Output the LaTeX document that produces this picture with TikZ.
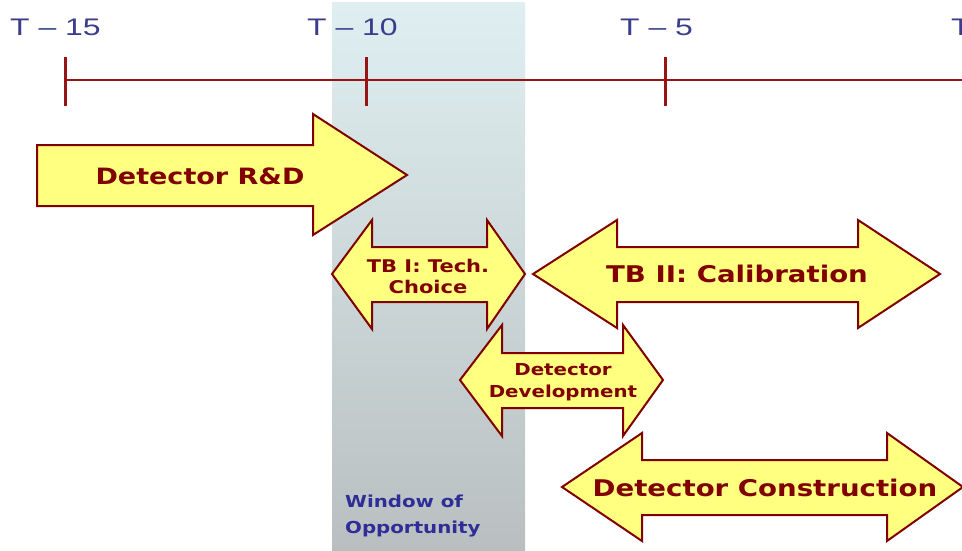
\documentclass[tikz,border=0pt]{standalone}
\usepackage{fontspec}
\newfontfamily\tickfont[FakeStretch=1.33]{Liberation Sans}
\newfontfamily\barfont[FakeStretch=1.2]{DejaVu Sans}

\definecolor{barred}{RGB}{128,0,0}
\definecolor{baryellow}{RGB}{255,255,128}
\definecolor{axisred}{RGB}{150,20,20}
\definecolor{tickblue}{RGB}{60,60,140}
\definecolor{winblue}{RGB}{46,46,150}
\definecolor{wintop}{RGB}{223,239,241}
\definecolor{winbot}{RGB}{185,191,192}

\begin{document}
\begin{tikzpicture}[x=1pt, y=-1pt,
    bar/.style = {draw=barred, line width=2pt, fill=baryellow},
    barlabel/.style = {text=barred, align=center, inner sep=0pt},
    ticklabel/.style = {text=tickblue, anchor=base west, inner sep=0pt,
      font=\tickfont\fontsize{24}{24}\selectfont}]
        \useasboundingbox (0,0) rectangle (962,550);
        \clip (0,0) rectangle (962,550);
        % window of opportunity
        \shade [top color=wintop, bottom color=winbot] (332,2) rectangle (525,550);
        \node [text=winblue, anchor=west, align=left, inner sep=0pt,
          font=\barfont\bfseries\fontsize{16.5}{26}\selectfont] (window) at (345,516)
          {Window of\\Opportunity};
        % time axis
        \draw [axisred, line width=2pt] (65,80) -- (970,80);
        \foreach \t in {65,366,665}
          \draw [axisred, line width=3pt] (\t,57) -- (\t,106);
        \node [ticklabel] (t15) at (10,35) {T – 15};
        \node [ticklabel] (t10) at (307,35) {T – 10};
        \node [ticklabel] (t5) at (620,35) {T – 5};
        \node [ticklabel] (t0) at (951,35) {T};
        % phases
        \draw [bar] (37,145) -- (313,145) -- (313,114) -- (407,175) -- (313,235)
          -- (313,206) -- (37,206) -- cycle;
        \node [barlabel, font=\barfont\bfseries\fontsize{22.5}{27}\selectfont]
          (rnd) at (200,176) {Detector R\&D};
        \draw [bar] (332,274) -- (372,220) -- (372,247) -- (487,247) -- (487,220)
          -- (525,274) -- (487,329) -- (487,302) -- (372,302) -- (372,329) -- cycle;
        \node [barlabel, font=\barfont\bfseries\fontsize{17.5}{21}\selectfont]
          (tb1) at (428,276) {TB I: Tech.\\Choice};
        \draw [bar] (533,274) -- (617,220) -- (617,247) -- (858,247) -- (858,220)
          -- (940,274) -- (858,328) -- (858,302) -- (617,302) -- (617,328) -- cycle;
        \node [barlabel, font=\barfont\bfseries\fontsize{23}{27}\selectfont]
          (tb2) at (737,274) {TB II: Calibration};
        \draw [bar] (460,380) -- (502,325) -- (502,353) -- (623,353) -- (623,325)
          -- (663,380) -- (623,436) -- (623,408) -- (502,408) -- (502,436) -- cycle;
        \node [barlabel, font=\barfont\bfseries\fontsize{16.5}{22}\selectfont]
          (dev) at (563,382) {Detector\\Development};
        \draw [bar] (562,487) -- (642,433) -- (642,460) -- (887,460) -- (887,433)
          -- (963,487) -- (887,541) -- (887,515) -- (642,515) -- (642,541) -- cycle;
        \node [barlabel, font=\barfont\bfseries\fontsize{23}{27}\selectfont]
          (con) at (765,488) {Detector Construction};
      \end{tikzpicture}
\end{document}
